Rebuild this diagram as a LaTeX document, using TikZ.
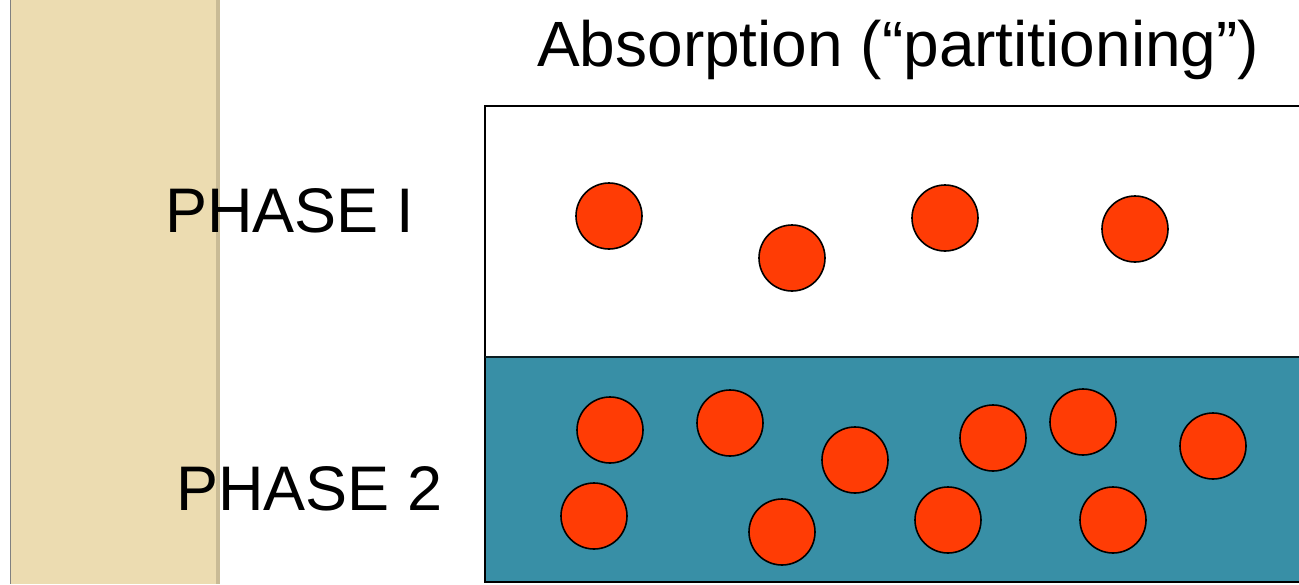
\documentclass[tikz,border=0pt]{standalone}
\usepackage{fontspec}
\setmainfont{Liberation Sans}
\definecolor{beige}{RGB}{236,220,177}
\definecolor{teal2}{RGB}{56,143,166}
\definecolor{dotred}{RGB}{255,60,5}
\begin{document}
\begin{tikzpicture}[x=1pt,y=-1pt,
  mol/.style={circle,draw=black,line width=1.6pt,fill=dotred,minimum size=66pt,inner sep=0pt},
  lbl/.style={anchor=base west,inner sep=0pt,font=\fontsize{63}{70}\selectfont}]
\useasboundingbox (0,0) rectangle (1299,584);
\fill[white] (0,0) rectangle (1299,584);
% beige strip
\fill[beige] (10,0) rectangle (219,584);
\fill[beige!85!black] (216,0) rectangle (220,584);
\draw[gray,line width=1pt] (10,0) -- (10,584);
% box
\fill[teal2] (485,357) rectangle (1305,582);
\draw[black,line width=2pt] (1305,106) -- (485,106) -- (485,582) -- (1305,582);
\draw[black!80!teal2,line width=2pt] (485,357) -- (1305,357);
% labels
\node[lbl,font=\fontsize{64}{70}\selectfont] (title) at (537,66) {Absorption (“partitioning”)};
\node[lbl] (p1) at (165,232) {PHASE I};
\node[lbl] (p2) at (176,510) {PHASE 2};
% molecules phase I
\node[mol] (a1) at (609,216) {};
\node[mol] (a2) at (792,258) {};
\node[mol] (a3) at (945,218) {};
\node[mol] (a4) at (1135,229) {};
% molecules phase 2
\node[mol] (b1) at (610,430) {};
\node[mol] (b2) at (730,423) {};
\node[mol] (b3) at (855,460) {};
\node[mol] (b4) at (993,438) {};
\node[mol] (b5) at (1083,422) {};
\node[mol] (b6) at (1213,446) {};
\node[mol] (b7) at (594,516) {};
\node[mol] (b8) at (782,532) {};
\node[mol] (b9) at (948,520) {};
\node[mol] (b10) at (1113,520) {};
\end{tikzpicture}
\end{document}
